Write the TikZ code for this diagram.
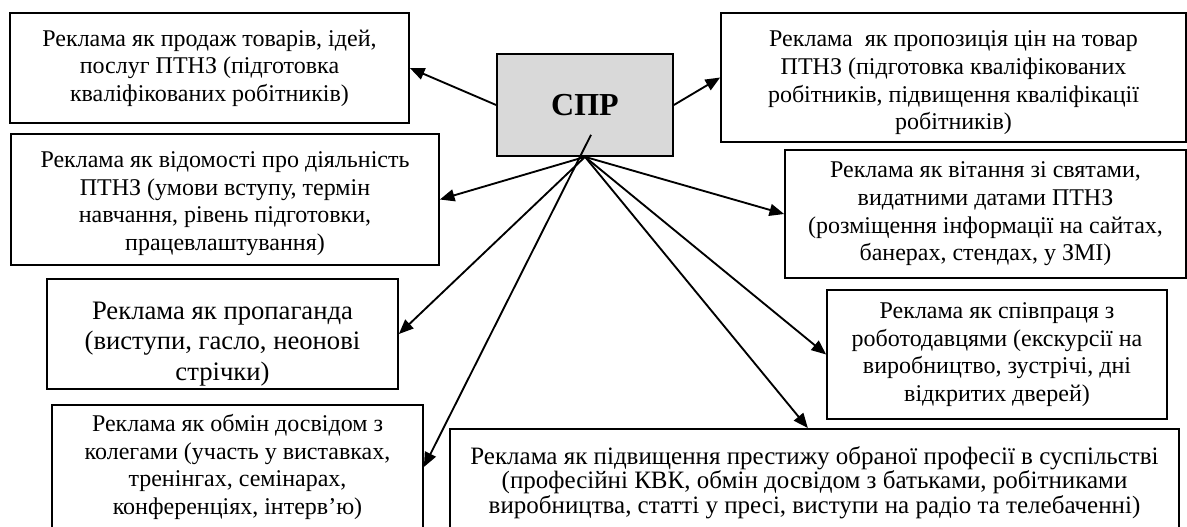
\documentclass[tikz,border=0pt]{standalone}
\usepackage{fontspec}
\setmainfont{Liberation Serif}
\usetikzlibrary{arrows.meta,positioning}
\tikzset{
    %Define standard arrow tip
    >={Triangle[length=11pt,width=9pt]},
    %Define style for boxes
    adnode/.style={
             rectangle,
             draw=black, line width=1.3pt,
             align=center, inner sep=0pt,
             font=\fontsize{18}{20.7}\selectfont},
    sprnode/.style={
             rectangle,
             draw=black, line width=1.3pt,
             fill=black!15,
             font=\fontsize{24}{28}\selectfont\bfseries},
    % Define arrow style
    adarrow/.style={
            ->,
            line width=1.4pt}
}

\begin{document}
\begin{tikzpicture}[x=0.75pt, y=-0.75pt]
    \useasboundingbox (0,0) rectangle (1187,526);
    \node[sprnode, minimum width=132pt, minimum height=76.5pt] (spr) at (585,105) {СПР};
    \node[adnode, minimum width=299.25pt, minimum height=82.5pt] (sale) at (209.5,68)
        {Реклама як продаж товарів, ідей,\\ послуг ПТНЗ (підготовка\\ кваліфікованих робітників)};
    \node[adnode, minimum width=348.75pt, minimum height=96.75pt] (price) at (953.5,77.5)
        {\rule{0pt}{20pt}Реклама~ як пропозиція цін на товар\\ ПТНЗ (підготовка кваліфікованих\\ робітників, підвищення кваліфікації\\ робітників)};
    \node[adnode, minimum width=321pt, minimum height=98.25pt] (info) at (225,199.5)
        {\rule{0pt}{18pt}Реклама як відомості про діяльність\\ ПТНЗ (умови вступу, термін\\ навчання, рівень підготовки,\\ працевлаштування)};
    \node[adnode, minimum width=300.75pt, minimum height=96pt] (greet) at (985.5,214)
        {Реклама як вітання зі святами,\\ видатними датами ПТНЗ\\ (розміщення інформації на сайтах,\\ банерах, стендах, у ЗМІ)};
    \node[adnode, minimum width=263.25pt, minimum height=82.5pt,
          font=\fontsize{20}{23}\selectfont] (propaganda) at (222.5,334)
        {\rule{0pt}{28pt}Реклама як пропаганда\\ (виступи, гасло, неонові\\ стрічки)};
    \node[adnode, minimum width=255pt, minimum height=96.75pt] (employers) at (997,354.5)
        {Реклама як співпраця з\\ роботодавцями (екскурсії на\\ виробництво, зустрічі, дні\\ відкритих дверей)};
    \node[adnode, minimum width=278.25pt, minimum height=93pt] (colleagues) at (237.5,467)
        {Реклама як обмін досвідом з\\ колегами (участь у виставках,\\ тренінгах, семінарах,\\ конференціях, інтерв’ю)};
    \node[adnode, minimum width=546.75pt, inner ysep=13pt, text depth=40pt,
          anchor=north, font=\fontsize{18.75}{18.5}\selectfont] (prestige) at (814.5,428)
        {Реклама як підвищення престижу обраної професії в суспільстві\\ (професійні КВК, обмін досвідом з батьками, робітниками\\ виробництва, статті у пресі, виступи на радіо та телебаченні)};
    \coordinate (sprinner) at ([shift={(6,-22)}]spr.south);
    \draw[adarrow] (spr.west) -- (sale.east);
    \draw[adarrow] (spr.east) -- (price.west);
    \draw[adarrow] (spr.south) -- (info.east);
    \draw[adarrow] (spr.south) -- (propaganda.east);
    \draw[adarrow] (spr.south) -- (greet.west);
    \draw[adarrow] (spr.south) -- (employers.west);
    \draw[adarrow] (spr.south) -- ([xshift=-5pt]prestige.north);
    \draw[adarrow] (sprinner) -- (colleagues.east);
\end{tikzpicture}
\end{document}
